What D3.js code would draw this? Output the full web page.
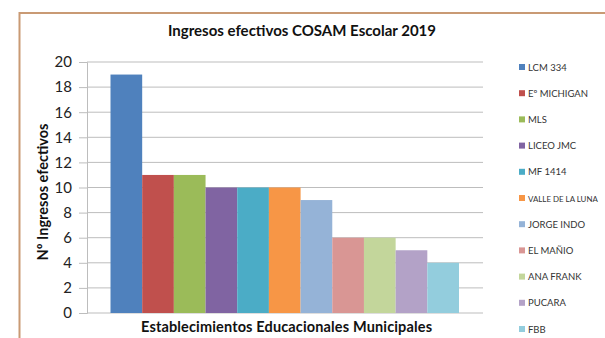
<!DOCTYPE html>
<html><head><meta charset="utf-8">
<script src="https://cdn.jsdelivr.net/npm/d3@7"></script>
<style>body{margin:0;background:#fff;overflow:hidden}svg{display:block}</style>
</head><body>
<svg id="c" width="605" height="338"></svg>
<script>
const categories = ["LCM 334","Eº MICHIGAN","MLS","LICEO JMC","MF 1414","VALLE DE LA LUNA","JORGE INDO","EL MAÑIO","ANA FRANK","PUCARA","FBB"];
const values = [19,11,11,10,10,10,9,6,6,5,4];
const colors = ["#4F81BD","#C0504D","#9BBB59","#8064A2","#4BACC6","#F79646","#95B3D7","#D99694","#C3D69B","#B3A2C7","#93CDDD"];
const yTicks = [0,2,4,6,8,10,12,14,16,18,20];
const title = "Ingresos efectivos COSAM Escolar 2019";
const xTitle = "Establecimientos Educacionales Municipales";
const yTitle = "Nº Ingresos efectivos";

(function(){
const svg = d3.select("#c");
const font = "Lato, 'Open Sans', sans-serif";
svg.append("rect").attr("x",19.5).attr("y",13).attr("width",620).attr("height",400)
  .attr("fill","#fff").attr("stroke","#C99A74").attr("stroke-width",2);

const pL=87, pR=483, pT=62, pB=313;
const y = d3.scaleLinear().domain([0,20]).range([pB,pT]);
const x = d3.scaleBand().domain(categories).range([pL+23.5,pR-24]).padding(0);

svg.append("g").selectAll("line").data(yTicks).join("line")
  .attr("x1",pL).attr("x2",pR).attr("y1",d=>y(d)).attr("y2",d=>y(d))
  .attr("stroke","#BDBDBD").attr("stroke-width",1);

const ya = svg.append("g").attr("transform",`translate(${pL},0)`)
  .call(d3.axisLeft(y).tickValues(yTicks).tickSize(8).tickPadding(7));
ya.select(".domain").attr("stroke","#BDBDBD");
ya.selectAll(".tick line").attr("stroke","#BDBDBD");
ya.selectAll("text").attr("font-family",font).attr("font-size",15).attr("fill","#222");

svg.append("g").selectAll("rect").data(categories).join("rect")
  .attr("x",d=>x(d)).attr("width",x.bandwidth())
  .attr("y",(d,i)=>y(values[i])).attr("height",(d,i)=>pB-y(values[i]))
  .attr("fill",(d,i)=>colors[i]);

svg.append("text").attr("x",302).attr("y",36).attr("text-anchor","middle")
  .attr("font-family",font).attr("font-weight","bold").attr("font-size",15).attr("fill","#111").text(title);
svg.append("text").attr("x",141).attr("y",332)
  .attr("textLength",291).attr("lengthAdjust","spacing")
  .attr("font-family",font).attr("font-weight","bold").attr("font-size",14.5).attr("fill","#111").text(xTitle);
svg.append("text").attr("transform","translate(48,192) rotate(-90)").attr("text-anchor","middle")
  .attr("font-family",font).attr("font-weight","bold").attr("font-size",14.5).attr("fill","#111").text(yTitle);

const lg = svg.append("g");
const ly = d3.scaleLinear().domain([0,categories.length-1]).range([67,329]);
categories.forEach((c,i)=>{
  lg.append("rect").attr("x",519).attr("y",ly(i)-3).attr("width",6).attr("height",6).attr("fill",colors[i]);
  const t = lg.append("text").attr("x",528).attr("y",ly(i)+3.5).attr("font-family",font).attr("font-size",9.5)
    .attr("fill","#333").text(c);
  const w = t.node().getComputedTextLength();
  if (w > 70) t.attr("font-size", 9.5*70/w);
});
})();
</script>
</body></html>
